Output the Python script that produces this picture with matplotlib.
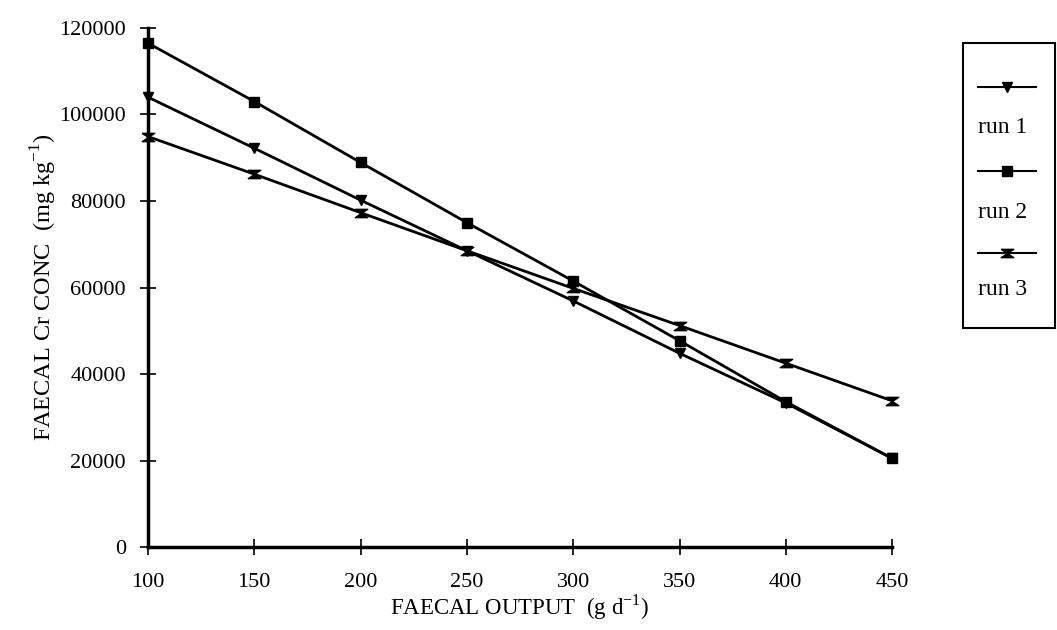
import matplotlib
matplotlib.use("Agg")
import matplotlib.pyplot as plt
from matplotlib.lines import Line2D
from matplotlib.patches import Rectangle
from matplotlib.path import Path

plt.rcParams['font.family'] = ['Liberation Serif', 'DejaVu Serif']
plt.rcParams['mathtext.fontset'] = 'custom'
plt.rcParams['mathtext.rm'] = 'Liberation Serif'

#---- data
output = [100, 150, 200, 250, 300, 350, 400, 450]
run1 = [104000, 92200, 80200, 68500, 56900, 44800, 33300, 20500]
run2 = [116500, 103000, 88900, 75000, 61500, 47700, 33600, 20500]
run3 = [94900, 86200, 77300, 68500, 59800, 51200, 42500, 33800]
labels = ["run 1", "run 2", "run 3"]

# hourglass marker for run 3
hourglass = Path([(-1.2, 0.8), (1.2, 0.8), (0, 0), (1.2, -0.8), (-1.2, -0.8), (0, 0), (-1.2, 0.8)])
markers = ["v", "s", hourglass]
sizes = [7, 7, 9]

fig = plt.figure(figsize=(10.57, 6.30), dpi=100)
ax = fig.add_axes([0.140, 0.1317, 0.704, 0.8239])

for ys, m, s in zip([run1, run2, run3], markers, sizes):
	ax.plot(output, ys, color="black", lw=2.0, marker=m, ms=s, clip_on=False)

ax.set_xlim(100, 450)
ax.set_ylim(0, 120000)
ax.set_xticks(output)
ax.set_yticks(range(0, 120001, 20000))
for side in ["top", "right"]:
	ax.spines[side].set_visible(False)
for side in ["left", "bottom"]:
	ax.spines[side].set_linewidth(2.5)
ax.tick_params(direction="inout", length=12, width=1.2, colors="black")
ax.tick_params(axis="y", labelsize=16, pad=10)
ax.tick_params(axis="x", labelsize=16, pad=13)

ax.set_xlabel(r"FAECAL OUTPUT  (g d$^{\mathregular{-1}}$)", fontsize=16.5, labelpad=0)
ax.set_ylabel(r"FAECAL Cr CONC  (mg kg$^{\mathregular{-1}}$)", fontsize=17.5, labelpad=0)

#---- legend box, markers above their labels
fig.add_artist(Rectangle((0.911, 0.479), 0.087, 0.452, transform=fig.transFigure,
	fill=False, edgecolor="black", lw=1.5))
markY = [0.862, 0.729, 0.598]
textY = [0.797, 0.663, 0.540]
for m, s, my, ty, lab in zip(markers, sizes, markY, textY, labels):
	fig.add_artist(Line2D([0.925, 0.980], [my, my], transform=fig.transFigure,
		color="black", lw=1.5))
	fig.add_artist(Line2D([0.9525], [my], transform=fig.transFigure,
		color="black", lw=0, marker=m, ms=s))
	fig.text(0.925, ty, lab, fontsize=17, va="center", ha="left")

fig.savefig("out.png", dpi=100)
